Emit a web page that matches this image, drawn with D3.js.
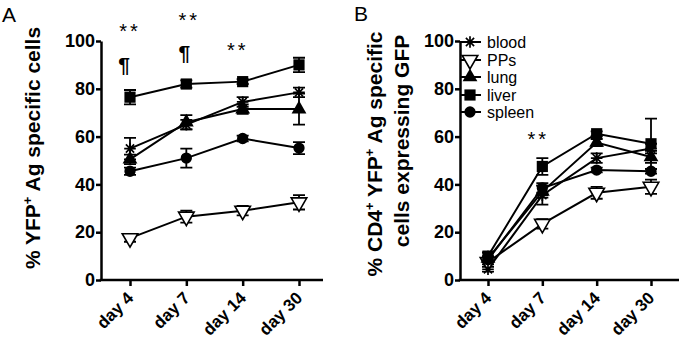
<!DOCTYPE html>
<html><head><meta charset="utf-8">
<script src="https://cdn.jsdelivr.net/npm/d3@7"></script>
<style>body{margin:0;background:#fff}svg{display:block}text{font-family:"Liberation Sans",Arial,sans-serif}</style>
</head><body><svg id="c" width="680" height="338"></svg>
<script>
const days = ["day 4","day 7","day 14","day 30"];
const tissues = ["blood","PPs","lung","liver","spleen"];
const yTicks = [0,20,40,60,80,100];
// Panel A: % YFP+ Ag specific cells (mean, sem)
const aBlood = [55,65,74.5,78.5], aBloodErr=[4.5,2,2,2];
const aPPs = [17.5,26.5,29,32.5], aPPsErr=[1.5,2.5,2,3];
const aLung = [50.5,66,71.5,71.5], aLungErr=[2,3,2,6.5];
const aLiver = [76.5,82,83,90], aLiverErr=[3,1.5,1,3];
const aSpleen = [45.5,51,59.2,55.2], aSpleenErr=[1.5,4,1.2,2.5];
// Panel B: % CD4+ YFP+ Ag specific cells expressing GFP
const bBlood = [4.5,35.5,51,55], bBloodErr=[1,4,2,2];
const bPPs = [7.5,23.5,36.5,39], bPPsErr=[1,2,2.5,3];
const bLung = [9,37,57.5,51.5], bLungErr=[1,2.5,1.5,2.5];
const bLiver = [10,47.5,61.2,57], bLiverErr=[1.5,3.5,1,10.5];
const bSpleen = [8.5,38.5,46,45.5], bSpleenErr=[1,2,1,1];
const annA = [{day:"day 4",text:"**",y:38,dx:0},{day:"day 4",text:"¶",y:72,dx:-6},{day:"day 7",text:"**",y:27,dx:3},{day:"day 7",text:"¶",y:60,dx:-2},{day:"day 14",text:"**",y:57,dx:-5}];
const annB = [{day:"day 7",text:"**",y:146,dx:-4}];

const svg = d3.select("#c");
const markers = {
  blood:{type:"asterisk"}, PPs:{type:"tri"}, lung:{type:d3.symbolTriangle,size:95}, liver:{type:d3.symbolSquare,size:125}, spleen:{type:d3.symbolCircle,size:100}
};
function drawMarker(g, t, x, y){
  const m = markers[t];
  if(m.type==="asterisk"){
    const r=5.8;
    const p=d3.path();
    for(let k=0;k<4;k++){const a=k*Math.PI/4;p.moveTo(x-r*Math.cos(a),y-r*Math.sin(a));p.lineTo(x+r*Math.cos(a),y+r*Math.sin(a));}
    g.append("path").attr("d",p.toString()).attr("stroke","#000").attr("stroke-width",1.7).attr("fill","none");
  } else if(m.type==="tri"){
    g.append("path").attr("d",d3.symbol(d3.symbolTriangle,105)()).attr("transform",`translate(${x},${y}) rotate(180)`).attr("fill","#fff").attr("stroke","#000").attr("stroke-width",1.6);
  } else {
    g.append("path").attr("d",d3.symbol(m.type,m.size)()).attr("transform",`translate(${x},${y})`).attr("fill","#000");
  }
}

function panel(opt){
  const y = d3.scaleLinear().domain([0,100]).range([280,41]);
  const x = d3.scalePoint().domain(days).range(opt.xr);
  const g = svg.append("g");
  const ya = g.append("g").attr("transform",`translate(${opt.ax},0)`).call(d3.axisLeft(y).tickValues(yTicks).tickSize(5).tickSizeOuter(0).tickPadding(1));
  ya.select(".domain").attr("stroke-width",2.5);
  ya.selectAll(".tick line").attr("stroke-width",2.5);
  ya.selectAll(".tick text").attr("font-size",18).attr("font-weight","bold").attr("font-family","Liberation Sans, Arial, sans-serif").attr("fill","#000");
  const xa = g.append("g").attr("transform","translate(0,280)").call(d3.axisBottom(x).tickSize(6).tickSizeOuter(0));
  xa.select(".domain").remove();
  xa.append("line").attr("x1",opt.ax-1.25).attr("x2",opt.xend).attr("stroke","#000").attr("stroke-width",2.5);
  xa.selectAll(".tick line").attr("stroke-width",2.5);
  xa.selectAll(".tick text").attr("font-size",17).attr("font-weight","bold").attr("font-family","Liberation Sans, Arial, sans-serif").attr("fill","#000")
    .attr("text-anchor","end").attr("x",0).attr("y",0).attr("dy",0).attr("transform","translate(4,19) rotate(-45)");
  const line = d3.line().x((d,i)=>x(days[i])).y(d=>y(d));
  opt.series.forEach(s=>{
    g.append("path").attr("d",line(s.v)).attr("fill","none").attr("stroke","#000").attr("stroke-width",2);
    s.v.forEach((v,i)=>{
      const cx=x(days[i]);
      const e=s.e[i];
      const p=d3.path();
      p.moveTo(cx,y(v-e));p.lineTo(cx,y(v+e));
      p.moveTo(cx-6,y(v+e));p.lineTo(cx+6,y(v+e));
      p.moveTo(cx-6,y(v-e));p.lineTo(cx+6,y(v-e));
      g.append("path").attr("d",p.toString()).attr("stroke","#000").attr("stroke-width",1.8).attr("fill","none");
    });
  });
  opt.series.forEach(s=>{ s.v.forEach((v,i)=>drawMarker(g,s.t,x(days[i]),y(v))); });
  return {g,x,y};
}

const A = panel({ax:101,xr:[130,299],xend:323,series:[
  {t:"PPs",v:aPPs,e:aPPsErr},{t:"spleen",v:aSpleen,e:aSpleenErr},{t:"lung",v:aLung,e:aLungErr},{t:"blood",v:aBlood,e:aBloodErr},{t:"liver",v:aLiver,e:aLiverErr}]});
const B = panel({ax:460,xr:[488,651],xend:679,series:[
  {t:"PPs",v:bPPs,e:bPPsErr},{t:"spleen",v:bSpleen,e:bSpleenErr},{t:"blood",v:bBlood,e:bBloodErr},{t:"lung",v:bLung,e:bLungErr},{t:"liver",v:bLiver,e:bLiverErr}]});

annA.forEach(a=>{
  A.g.append("text").attr("x",A.x(a.day)+a.dx).attr("y",a.y).attr("text-anchor","middle")
   .attr("font-size",a.text==="¶"?21:20).attr("font-weight",a.text==="¶"?"bold":"normal").attr("letter-spacing",a.text==="**"?3:0).text(a.text);
});
annB.forEach(a=>{
  B.g.append("text").attr("x",B.x(a.day)+a.dx).attr("y",a.y).attr("text-anchor","middle").attr("font-size",20).attr("letter-spacing",3).text(a.text);
});

tissues.forEach((t,i)=>{
  const ly=[42,60,77,95,112][i];
  const lg=svg.append("g");
  lg.append("line").attr("x1",460).attr("x2",481).attr("y1",ly).attr("y2",ly).attr("stroke","#000").attr("stroke-width",2);
  drawMarker(lg,t,470,ly);
  lg.append("text").attr("x",487).attr("y",ly+5.5).attr("font-size",16).text(t);
});

svg.append("text").attr("x",2).attr("y",22).attr("font-size",21).text("A");
svg.append("text").attr("x",354).attr("y",21).attr("font-size",21).text("B");

const ta = svg.append("text").attr("transform","translate(40,148) rotate(-90)").attr("text-anchor","middle").attr("font-size",21).attr("font-weight","bold");
ta.append("tspan").text("% YFP");
ta.append("tspan").attr("font-size",13).attr("dy",-8).text("+");
ta.append("tspan").attr("dy",8).text(" Ag specific cells");

const tb = svg.append("text").attr("transform","translate(382,154) rotate(-90)").attr("text-anchor","middle").attr("font-size",21).attr("font-weight","bold");
tb.append("tspan").text("% CD4");
tb.append("tspan").attr("font-size",13).attr("dy",-8).text("+");
tb.append("tspan").attr("dy",8).text(" YFP");
tb.append("tspan").attr("font-size",13).attr("dy",-8).text("+");
tb.append("tspan").attr("dy",8).text(" Ag specific");
svg.append("text").attr("transform","translate(409,141) rotate(-90)").attr("text-anchor","middle").attr("font-size",21).attr("font-weight","bold").text("cells expressing GFP");
</script></body></html>
